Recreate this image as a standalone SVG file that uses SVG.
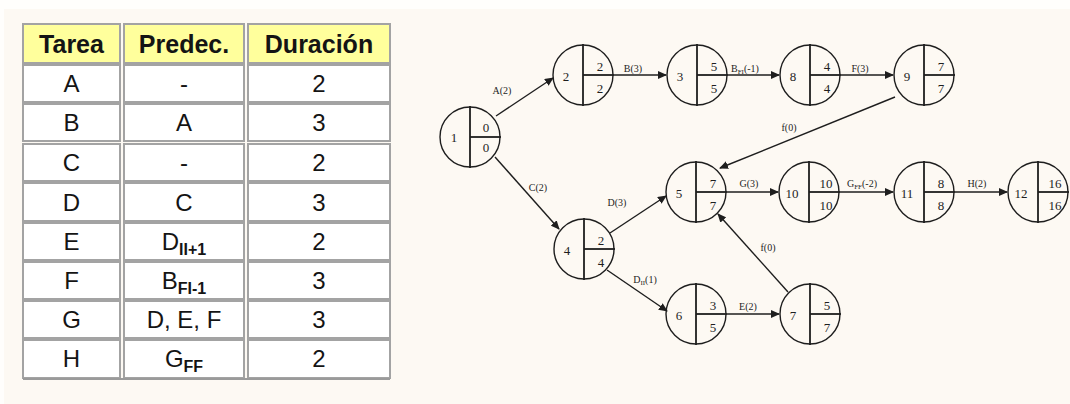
<svg xmlns="http://www.w3.org/2000/svg" width="1070" height="404" viewBox="0 0 1070 404">
<defs>
<style>
.hc{fill:#ffff9c;stroke:#a3a3a3;stroke-width:2}
.bc{fill:#ffffff;stroke:#a3a3a3;stroke-width:2}
.ht{font-family:"Liberation Sans",Arial,sans-serif;font-size:25px;font-weight:bold;fill:#141414;text-anchor:middle}
.bt{font-family:"Liberation Sans",Arial,sans-serif;font-size:24px;fill:#141414;text-anchor:middle}
.sb{font-size:16px;font-weight:bold}
.circ{fill:none;stroke:#1e1e1e;stroke-width:1.4}
.div{stroke:#1e1e1e;stroke-width:1.8}
.nt{font-family:"Liberation Serif","Times New Roman",serif;font-size:13px;fill:#1e1e1e;text-anchor:middle}
.edge{stroke:#1e1e1e;stroke-width:1.4;fill:none;marker-end:url(#ah)}
.el{font-family:"Liberation Serif","Times New Roman",serif;font-size:10px;fill:#1e1e1e;text-anchor:middle}
.es{font-size:7px}
</style>
<marker id="ah" markerWidth="9" markerHeight="8" refX="8" refY="4" orient="auto" markerUnits="userSpaceOnUse">
<path d="M0,0 L9,4 L0,8 Z" fill="#1e1e1e"/>
</marker>
</defs>
<rect x="0" y="0" width="1070" height="404" fill="#fdf9f3"/>
<rect x="0" y="0" width="1070" height="9" fill="#fffefc"/>
<rect x="0" y="0" width="4" height="404" fill="#fffefc"/>

<g id="table">
<rect class="hc" x="23" y="24" width="97" height="39"/>
<rect class="hc" x="124" y="24" width="120" height="39"/>
<rect class="hc" x="248" y="24" width="142" height="39"/>
<text class="ht" x="71.5" y="53">Tarea</text>
<text class="ht" x="184" y="53">Predec.</text>
<text class="ht" x="319" y="53">Duración</text>

<rect class="bc" x="23" y="65" width="97" height="37"/>
<rect class="bc" x="124" y="65" width="120" height="37"/>
<rect class="bc" x="248" y="65" width="142" height="37"/>
<text class="bt" x="71.5" y="92">A</text><text class="bt" x="184" y="92">-</text><text class="bt" x="319" y="92">2</text>

<rect class="bc" x="23" y="104" width="97" height="37"/>
<rect class="bc" x="124" y="104" width="120" height="37"/>
<rect class="bc" x="248" y="104" width="142" height="37"/>
<text class="bt" x="71.5" y="131">B</text><text class="bt" x="184" y="131">A</text><text class="bt" x="319" y="131">3</text>

<rect class="bc" x="23" y="144" width="97" height="37"/>
<rect class="bc" x="124" y="144" width="120" height="37"/>
<rect class="bc" x="248" y="144" width="142" height="37"/>
<text class="bt" x="71.5" y="171">C</text><text class="bt" x="184" y="171">-</text><text class="bt" x="319" y="171">2</text>

<rect class="bc" x="23" y="183" width="97" height="38"/>
<rect class="bc" x="124" y="183" width="120" height="38"/>
<rect class="bc" x="248" y="183" width="142" height="38"/>
<text class="bt" x="71.5" y="211">D</text><text class="bt" x="184" y="211">C</text><text class="bt" x="319" y="211">3</text>

<rect class="bc" x="23" y="223" width="97" height="37"/>
<rect class="bc" x="124" y="223" width="120" height="37"/>
<rect class="bc" x="248" y="223" width="142" height="37"/>
<text class="bt" x="71.5" y="250">E</text><text class="bt" x="184" y="250">D<tspan class="sb" dy="5">II+1</tspan></text><text class="bt" x="319" y="250">2</text>

<rect class="bc" x="23" y="262" width="97" height="37"/>
<rect class="bc" x="124" y="262" width="120" height="37"/>
<rect class="bc" x="248" y="262" width="142" height="37"/>
<text class="bt" x="71.5" y="289">F</text><text class="bt" x="184" y="289">B<tspan class="sb" dy="5">FI-1</tspan></text><text class="bt" x="319" y="289">3</text>

<rect class="bc" x="23" y="301" width="97" height="37"/>
<rect class="bc" x="124" y="301" width="120" height="37"/>
<rect class="bc" x="248" y="301" width="142" height="37"/>
<text class="bt" x="71.5" y="328">G</text><text class="bt" x="184" y="328">D, E, F</text><text class="bt" x="319" y="328">3</text>

<rect class="bc" x="23" y="340" width="97" height="38"/>
<rect class="bc" x="124" y="340" width="120" height="38"/>
<rect class="bc" x="248" y="340" width="142" height="38"/>
<text class="bt" x="71.5" y="367">H</text><text class="bt" x="184" y="367">G<tspan class="sb" dy="5">FF</tspan></text><text class="bt" x="319" y="367">2</text>
<line x1="23" y1="379" x2="390" y2="379" stroke="#9a9a9a" stroke-width="2"/>
</g>

<g id="connectors">
<line class="edge" x1="496" y1="116" x2="553" y2="78"/>
<line class="edge" x1="614" y1="75" x2="666" y2="75"/>
<line class="edge" x1="728" y1="75" x2="779" y2="75"/>
<line class="edge" x1="841" y1="75" x2="893" y2="75"/>
<line class="edge" x1="895" y1="97" x2="720" y2="168"/>
<line class="edge" x1="495" y1="157" x2="559" y2="229"/>
<line class="edge" x1="610" y1="233" x2="666" y2="196"/>
<line class="edge" x1="607" y1="270" x2="667" y2="311"/>
<line class="edge" x1="727" y1="314" x2="779" y2="314"/>
<line class="edge" x1="788" y1="292" x2="718" y2="214"/>
<line class="edge" x1="727" y1="192" x2="778" y2="192"/>
<line class="edge" x1="840" y1="192" x2="893" y2="192"/>
<line class="edge" x1="955" y1="192" x2="1007" y2="192"/>
<text class="el" x="502" y="94">A(2)</text>
<text class="el" x="633" y="72">B(3)</text>
<text class="el" x="745" y="72">B<tspan class="es" dy="2">FI</tspan><tspan dy="-2">(-1)</tspan></text>
<text class="el" x="860" y="72">F(3)</text>
<text class="el" x="789" y="131">f(0)</text>
<text class="el" x="538" y="191">C(2)</text>
<text class="el" x="617" y="206">D(3)</text>
<text class="el" x="645" y="283">D<tspan class="es" dy="2">II</tspan><tspan dy="-2">(1)</tspan></text>
<text class="el" x="748" y="310">E(2)</text>
<text class="el" x="768" y="251">f(0)</text>
<text class="el" x="749" y="187">G(3)</text>
<text class="el" x="862" y="187">G<tspan class="es" dy="2">FF</tspan><tspan dy="-2">(-2)</tspan></text>
<text class="el" x="977" y="187">H(2)</text>
</g>

<g id="node1"><circle class="circ" cx="470" cy="137" r="30"/><line class="div" x1="470" y1="106" x2="470" y2="168"/><line class="div" x1="470" y1="137" x2="501" y2="137"/><text class="nt" x="454" y="142">1</text><text class="nt" x="486" y="132">0</text><text class="nt" x="486" y="152">0</text></g>
<g id="node2"><circle class="circ" cx="583" cy="75" r="30"/><line class="div" x1="583" y1="44" x2="583" y2="106"/><line class="div" x1="583" y1="75" x2="614" y2="75"/><text class="nt" x="566" y="81">2</text><text class="nt" x="600" y="71">2</text><text class="nt" x="600" y="93">2</text></g>
<g id="node3"><circle class="circ" cx="697" cy="75" r="30"/><line class="div" x1="697" y1="44" x2="697" y2="106"/><line class="div" x1="697" y1="75" x2="728" y2="75"/><text class="nt" x="680" y="81">3</text><text class="nt" x="714" y="71">5</text><text class="nt" x="714" y="93">5</text></g>
<g id="node8"><circle class="circ" cx="810" cy="75" r="30"/><line class="div" x1="810" y1="44" x2="810" y2="106"/><line class="div" x1="810" y1="75" x2="841" y2="75"/><text class="nt" x="793" y="81">8</text><text class="nt" x="827" y="71">4</text><text class="nt" x="827" y="93">4</text></g>
<g id="node9"><circle class="circ" cx="924" cy="75" r="30"/><line class="div" x1="924" y1="44" x2="924" y2="106"/><line class="div" x1="924" y1="75" x2="955" y2="75"/><text class="nt" x="907" y="81">9</text><text class="nt" x="941" y="71">7</text><text class="nt" x="941" y="93">7</text></g>
<g id="node4"><circle class="circ" cx="584" cy="249" r="30"/><line class="div" x1="584" y1="218" x2="584" y2="280"/><line class="div" x1="584" y1="249" x2="615" y2="249"/><text class="nt" x="567" y="255">4</text><text class="nt" x="601" y="245">2</text><text class="nt" x="601" y="267">4</text></g>
<g id="node5"><circle class="circ" cx="696" cy="192" r="30"/><line class="div" x1="696" y1="161" x2="696" y2="223"/><line class="div" x1="696" y1="192" x2="727" y2="192"/><text class="nt" x="679" y="198">5</text><text class="nt" x="713" y="188">7</text><text class="nt" x="713" y="210">7</text></g>
<g id="node10"><circle class="circ" cx="809" cy="192" r="30"/><line class="div" x1="809" y1="161" x2="809" y2="223"/><line class="div" x1="809" y1="192" x2="840" y2="192"/><text class="nt" x="792" y="198">10</text><text class="nt" x="826" y="188">10</text><text class="nt" x="826" y="210">10</text></g>
<g id="node11"><circle class="circ" cx="924" cy="192" r="30"/><line class="div" x1="924" y1="161" x2="924" y2="223"/><line class="div" x1="924" y1="192" x2="955" y2="192"/><text class="nt" x="907" y="198">11</text><text class="nt" x="941" y="188">8</text><text class="nt" x="941" y="210">8</text></g>
<g id="node12"><circle class="circ" cx="1038" cy="192" r="30"/><line class="div" x1="1038" y1="161" x2="1038" y2="223"/><line class="div" x1="1038" y1="192" x2="1069" y2="192"/><text class="nt" x="1021" y="198">12</text><text class="nt" x="1055" y="188">16</text><text class="nt" x="1055" y="210">16</text></g>
<g id="node6"><circle class="circ" cx="696" cy="314" r="30"/><line class="div" x1="696" y1="283" x2="696" y2="345"/><line class="div" x1="696" y1="314" x2="727" y2="314"/><text class="nt" x="679" y="320">6</text><text class="nt" x="713" y="310">3</text><text class="nt" x="713" y="332">5</text></g>
<g id="node7"><circle class="circ" cx="810" cy="314" r="30"/><line class="div" x1="810" y1="283" x2="810" y2="345"/><line class="div" x1="810" y1="314" x2="841" y2="314"/><text class="nt" x="793" y="320">7</text><text class="nt" x="827" y="310">5</text><text class="nt" x="827" y="332">7</text></g>
</svg>
